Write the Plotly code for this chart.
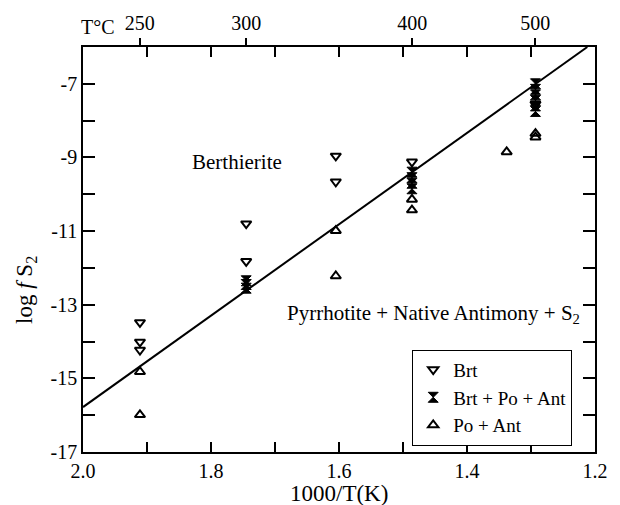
import numpy as np
import plotly.graph_objects as go

# Data
brt_x = [1.911, 1.911, 1.911, 1.745, 1.745, 1.605, 1.605, 1.486, 1.293]
brt_y = [-13.48, -14.01, -14.23, -10.80, -11.82, -8.96, -9.66, -9.12, -7.55]

bpa_x = [1.745, 1.745, 1.745, 1.486, 1.486, 1.486, 1.486,
         1.293, 1.293, 1.293, 1.293, 1.293, 1.293]
bpa_y = [-12.35, -12.45, -12.55, -9.40, -9.55, -9.70, -9.85,
         -7.00, -7.15, -7.30, -7.45, -7.60, -7.75]

pa_x = [1.911, 1.911, 1.605, 1.605, 1.486, 1.486, 1.338, 1.293, 1.293]
pa_y = [-14.82, -15.99, -10.99, -12.22, -10.14, -10.43, -8.85, -8.35, -8.45]

line_x = [2.0, 1.212]
line_y = [-15.78, -6.0]

top_T = [250, 300, 400, 500]
x_ticks = [2.0, 1.9, 1.8, 1.7, 1.6, 1.5, 1.4, 1.3, 1.2]
x_ticklabels = ["2.0", "", "1.8", "", "1.6", "", "1.4", "", "1.2"]
y_ticks = [-17, -16, -15, -14, -13, -12, -11, -10, -9, -8, -7, -6]
y_ticklabels = ["-17", "", "-15", "", "-13", "", "-11", "", "-9", "", "-7", ""]

FONT = "Liberation Serif"

fig = go.Figure()
fig.add_trace(go.Scatter(x=line_x, y=line_y, mode="lines",
                         line=dict(color="black", width=2), showlegend=False))
fig.add_trace(go.Scatter(x=brt_x, y=brt_y, mode="markers", name="Brt",
                         marker=dict(symbol="triangle-down-open", size=9,
                                     color="black", line=dict(width=2, color="black"))))
fig.add_trace(go.Scatter(x=bpa_x, y=bpa_y, mode="markers", name="Brt + Po + Ant",
                         marker=dict(symbol="hourglass", size=10,
                                     color="black", line=dict(width=1, color="black"))))
fig.add_trace(go.Scatter(x=pa_x, y=pa_y, mode="markers", name="Po + Ant",
                         marker=dict(symbol="triangle-up-open", size=9,
                                     color="black", line=dict(width=2, color="black"))))

# invisible trace for top axis
fig.add_trace(go.Scatter(x=[1.6], y=[-12], xaxis="x2", mode="markers",
                         marker=dict(opacity=0), showlegend=False, hoverinfo="skip"))

top_vals = [1000.0 / (t + 273.15) for t in top_T]

fig.update_layout(
    width=620, height=505,
    margin=dict(l=83, r=17, t=41, b=53),
    paper_bgcolor="white", plot_bgcolor="white",
    font=dict(family=FONT, size=20, color="black"),
    xaxis=dict(range=[2.0, 1.2], tickvals=x_ticks, ticktext=x_ticklabels,
               ticks="inside", ticklen=10, tickwidth=1.5, tickcolor="black",
               showline=True, linecolor="black", linewidth=1.5, mirror="ticks",
               showgrid=False, zeroline=False, tickfont=dict(size=20, family=FONT)),
    xaxis2=dict(range=[2.0, 1.2], overlaying="x", side="top",
                tickvals=top_vals, ticktext=[str(t) for t in top_T],
                ticks="outside", ticklen=8, tickwidth=1.5, tickcolor="black",
                showline=False, showgrid=False, zeroline=False,
                tickfont=dict(size=20, family=FONT)),
    yaxis=dict(range=[-17, -6], tickvals=y_ticks, ticktext=y_ticklabels,
               ticks="inside", ticklen=12, tickwidth=1.5, tickcolor="black",
               showline=True, linecolor="black", linewidth=1.5, mirror="ticks",
               showgrid=False, zeroline=False, tickfont=dict(size=20, family=FONT)),
    legend=dict(x=0.643, y=0.2525, xanchor="left", yanchor="top",
                bordercolor="black", borderwidth=1, bgcolor="white",
                font=dict(size=19, family=FONT), itemwidth=30,
                tracegroupgap=0),
    showlegend=True,
)

fig.add_annotation(text="T°C", x=0.029, y=1.049, xref="paper", yref="paper",
                   xanchor="center", yanchor="middle",
                   showarrow=False, font=dict(size=20, family=FONT))
fig.add_annotation(text="1000/T(K)", x=0.5, y=-0.103, xref="paper", yref="paper",
                   xanchor="center", yanchor="middle",
                   showarrow=False, font=dict(size=23, family=FONT))
fig.add_annotation(text="log <i>f</i> S<sub>2</sub>", x=-0.1115, y=0.40,
                   xref="paper", yref="paper", textangle=-90,
                   xanchor="center", yanchor="middle",
                   showarrow=False, font=dict(size=23, family=FONT))
fig.add_annotation(text="Berthierite", x=1.76, y=-9.12, showarrow=False,
                   font=dict(size=21, family=FONT))
fig.add_annotation(text="Pyrrhotite + Native Antimony + S<sub>2</sub>", x=1.452, y=-13.24,
                   showarrow=False, font=dict(size=21, family=FONT))

fig.write_html("out.html")
